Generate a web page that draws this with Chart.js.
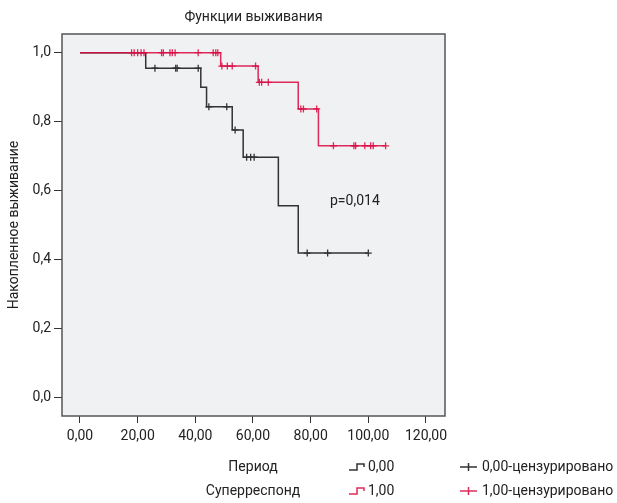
<!DOCTYPE html>
<html>
<head>
<meta charset="utf-8">
<script src="https://cdn.jsdelivr.net/npm/chart.js@4/dist/chart.umd.min.js"></script>
<style>
  html, body { margin: 0; padding: 0; background: #fff; }
  #wrap { width: 617px; height: 503px; position: relative; }
</style>
</head>
<body>
<div id="wrap"><canvas id="km"></canvas></div>
<script>
// Данные кривых Каплана-Мейера
const times0 = [0, 22.8, 41.9, 43.9, 52.8, 56.6, 68.8, 75.7, 100.0];
const surv0 = [1, 0.955, 0.900, 0.843, 0.776, 0.697, 0.556, 0.419, 0.419];
const censored0 = [26.0, 33.2, 33.7, 41.0, 44.7, 50.9, 53.8, 57.8, 59.2, 60.4, 78.8, 85.9, 100.0];

const times1 = [0, 48.8, 61.8, 75.7, 82.7, 106.0];
const surv1 = [1, 0.961, 0.914, 0.837, 0.730, 0.730];
const censored1 = [17.9, 18.8, 20.0, 21.2, 22.2, 28.3, 28.9, 31.2, 32.0, 33.0, 41.0, 46.2, 47.1, 47.8,
    49.2, 51.1, 52.8, 60.9, 62.2, 63.0, 65.3, 76.6, 77.5, 82.1, 87.9, 95.0, 95.6, 98.8, 100.8, 101.7, 106.0];

const xTicks = [0, 20, 40, 60, 80, 100, 120];
const yTicks = [0, 0.2, 0.4, 0.6, 0.8, 1.0];
const groupLabels = ['0,00', '1,00'];
const pText = 'p=0,014';

const FONT = "Roboto, 'Liberation Sans', sans-serif";
const BLACK = '#333333';
const RED = 'rgba(216, 14, 68, 0.88)';

// значение ступенчатой функции в момент t
function survAt(times, surv, t) {
    let s = surv[0];
    for (let i = 0; i < times.length; i++) {
        if (times[i] <= t) s = surv[i];
    }
    return s;
}

const toPts = (xs, ys) => xs.map((x, i) => ({ x: x, y: ys[i] }));
const censPts = (cens, times, surv) => cens.map(t => ({ x: t, y: survAt(times, surv, t) }));

const framePlugin = {
    id: 'frame',
    beforeDraw(chart) {
        const { ctx, chartArea: a } = chart;
        ctx.save();
        ctx.fillStyle = '#f0f1f3';
        ctx.fillRect(a.left, a.top, a.right - a.left, a.bottom - a.top);
        ctx.restore();
    },
    afterDraw(chart) {
        const { ctx, chartArea: a } = chart;
        ctx.save();
        ctx.strokeStyle = '#555';
        ctx.lineWidth = 1.5;
        ctx.strokeRect(a.left, a.top, a.right - a.left, a.bottom - a.top);

        ctx.fillStyle = '#222';
        ctx.textBaseline = 'middle';
        ctx.textAlign = 'center';
        ctx.font = '14px ' + FONT;
        ctx.fillText('Функции выживания', (a.left + a.right) / 2, 17);

        ctx.textAlign = 'left';
        ctx.font = '14px ' + FONT;
        ctx.fillText(pText, 330, 201);

        // легенда
        ctx.textAlign = 'center';
        ctx.fillText('Период', 253, 467);
        ctx.fillText('Суперреспонд', 253, 491);
        const rows = [467, 491];
        const cols = [BLACK, RED];
        rows.forEach((y, i) => {
            ctx.strokeStyle = cols[i];
            ctx.lineWidth = 1.5;
            ctx.beginPath();
            ctx.moveTo(349, y + 3);
            ctx.lineTo(357, y + 3);
            ctx.lineTo(357, y - 3);
            ctx.lineTo(364, y - 3);
            ctx.lineTo(364, y);
            ctx.stroke();
            ctx.beginPath();
            ctx.moveTo(460, y);
            ctx.lineTo(477, y);
            ctx.moveTo(468.5, y - 4);
            ctx.lineTo(468.5, y + 4);
            ctx.stroke();
            ctx.fillStyle = '#222';
            ctx.textAlign = 'left';
            ctx.fillText(groupLabels[i], 368, y);
            ctx.fillText(groupLabels[i] + '-цензурировано', 482, y);
        });
        ctx.restore();
    }
};

new Chart(document.getElementById('km'), {
    type: 'scatter',
    data: {
        datasets: [
            {
                label: '0,00',
                data: toPts(times0, surv0),
                showLine: true,
                stepped: 'before',
                borderColor: BLACK,
                borderWidth: 1.5,
                pointRadius: 0,
                order: 4
            },
            {
                label: '0,00-цензурировано',
                data: censPts(censored0, times0, surv0),
                pointStyle: 'cross',
                pointRadius: 3.5,
                borderColor: BLACK,
                borderWidth: 1.3,
                order: 3
            },
            {
                label: '1,00',
                data: toPts(times1, surv1),
                showLine: true,
                stepped: 'before',
                borderColor: RED,
                borderWidth: 1.5,
                pointRadius: 0,
                order: 2
            },
            {
                label: '1,00-цензурировано',
                data: censPts(censored1, times1, surv1),
                pointStyle: 'cross',
                pointRadius: 3.5,
                borderColor: RED,
                borderWidth: 1.3,
                order: 1
            }
        ]
    },
    options: {
        responsive: true,
        maintainAspectRatio: false,
        animation: false,
        layout: { padding: { left: 0, right: 172, top: 34, bottom: 0 } },
        plugins: {
            legend: { display: false },
            tooltip: { enabled: false }
        },
        scales: {
            x: {
                type: 'linear',
                min: -6.24,
                max: 126.6,
                afterBuildTicks: s => { s.ticks = xTicks.map(v => ({ value: v })); },
                afterFit: s => { s.height = 87; },
                grid: { drawOnChartArea: false, tickLength: 7, color: BLACK },
                border: { display: false },
                ticks: {
                    color: '#222',
                    padding: 5,
                    font: { family: FONT, size: 14 },
                    callback: v => v.toFixed(2).replace('.', ',')
                }
            },
            y: {
                type: 'linear',
                min: -0.053,
                max: 1.054,
                afterBuildTicks: s => { s.ticks = yTicks.map(v => ({ value: v })); },
                afterFit: s => { s.width = 62; },
                grid: { drawOnChartArea: false, tickLength: 8, color: BLACK },
                border: { display: false },
                ticks: {
                    color: '#222',
                    padding: 3,
                    font: { family: FONT, size: 14 },
                    callback: v => v.toFixed(1).replace('.', ',')
                },
                title: {
                    display: true,
                    text: 'Накопленное выживание',
                    color: '#222',
                    padding: { top: 6, bottom: 0 },
                    font: { family: FONT, size: 14 }
                }
            }
        }
    },
    plugins: [framePlugin]
});
</script>
</body>
</html>
